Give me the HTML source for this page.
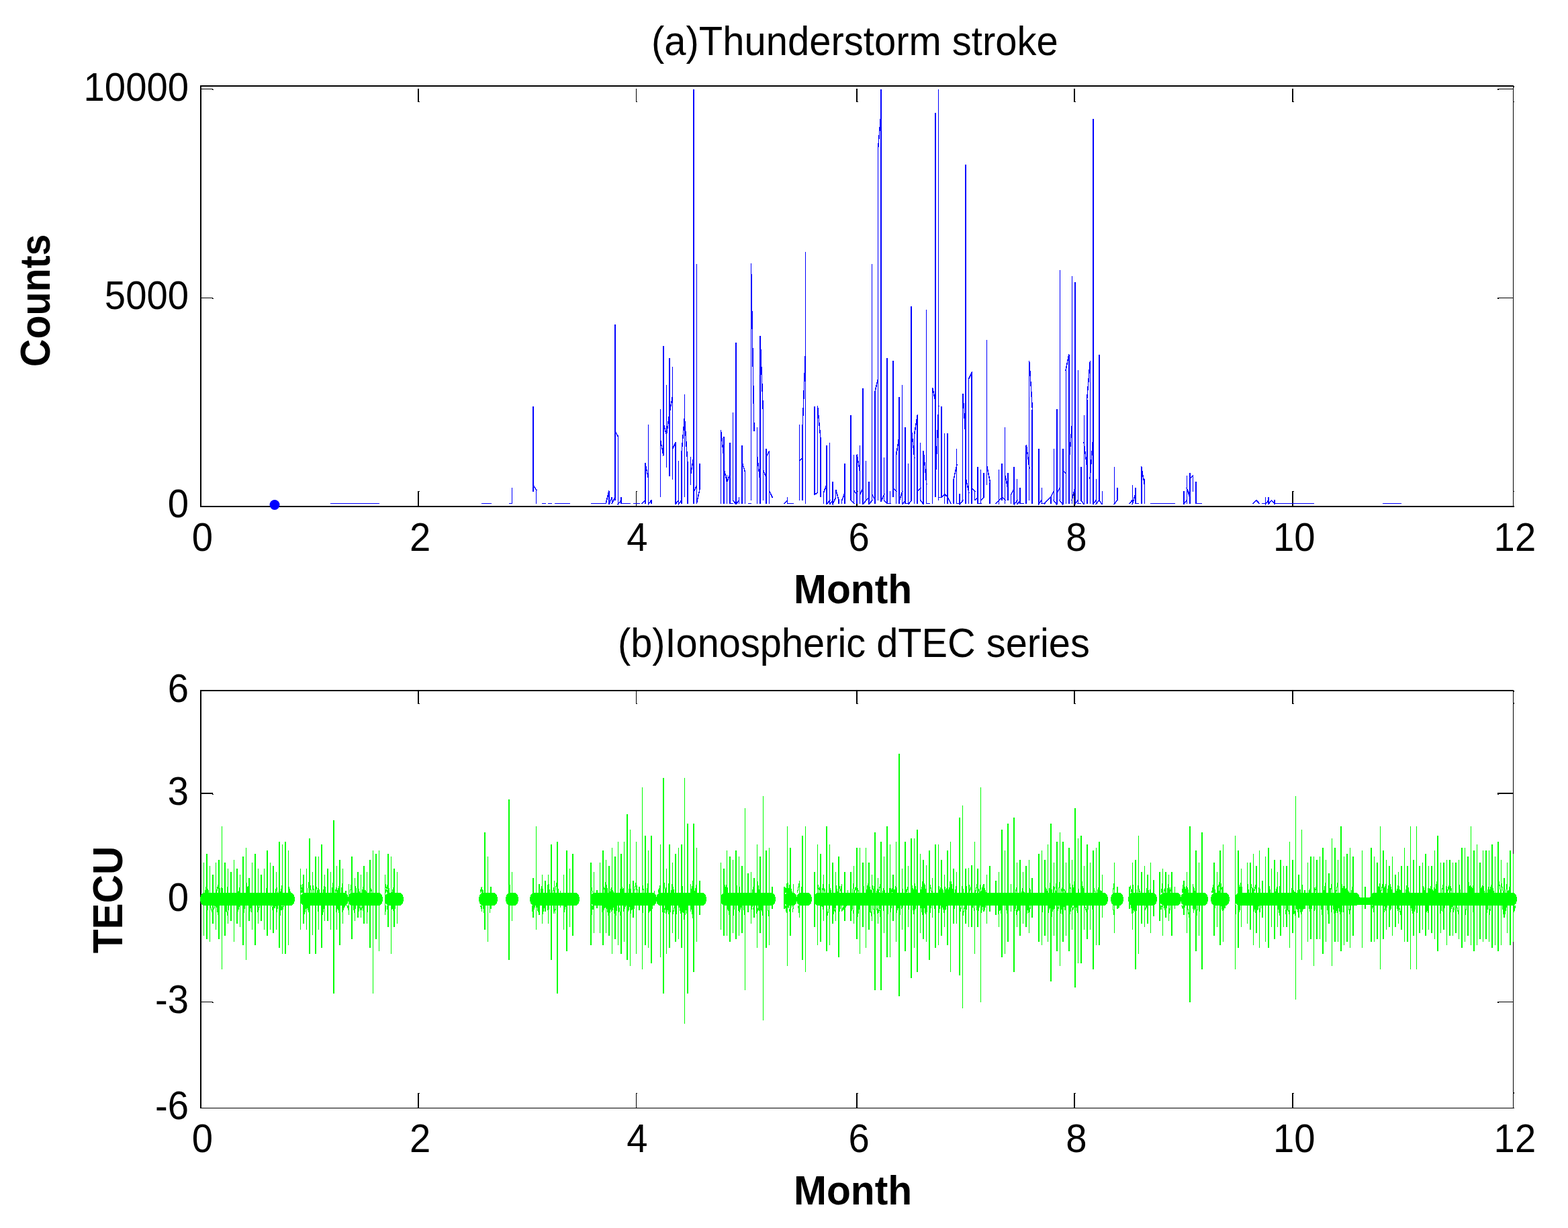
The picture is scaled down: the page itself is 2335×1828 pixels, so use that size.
<!DOCTYPE html>
<html lang="en"><head><meta charset="utf-8"><title>Thunderstorm stroke and ionospheric dTEC series</title>
<style>html,body{margin:0;padding:0;background:#fff;}body{width:2335px;height:1828px;overflow:hidden;}svg{display:block;}text{font-family:'Liberation Sans', Arial, Helvetica, sans-serif;fill:#000;}</style>
</head><body>
<svg xmlns="http://www.w3.org/2000/svg" width="2335" height="1828" viewBox="0 0 2335 1828">
<rect width="2335" height="1828" fill="#fff"/>
<g shape-rendering="crispEdges">
<rect x="298" y="127" width="2" height="628" fill="#000"/>
<rect x="298" y="127" width="1956" height="2" fill="#000"/>
<rect x="2253" y="127" width="1" height="628" fill="#000"/>
<rect x="298" y="753" width="1957" height="2" fill="#000"/>
<rect x="2254" y="128" width="1" height="2" fill="#000"/>
<rect x="622" y="731" width="2" height="22" fill="#000"/>
<rect x="622" y="132" width="2" height="20" fill="#000"/>
<rect x="624" y="151" width="1" height="1" fill="#000"/>
<rect x="624" y="731" width="1" height="1" fill="#000"/>
<rect x="947" y="731" width="1" height="22" fill="#000"/>
<rect x="947" y="132" width="1" height="20" fill="#000"/>
<rect x="948" y="151" width="1" height="1" fill="#000"/>
<rect x="948" y="731" width="1" height="1" fill="#000"/>
<rect x="1275" y="731" width="2" height="22" fill="#000"/>
<rect x="1275" y="132" width="2" height="20" fill="#000"/>
<rect x="1277" y="151" width="1" height="1" fill="#000"/>
<rect x="1277" y="731" width="1" height="1" fill="#000"/>
<rect x="1599" y="731" width="2" height="22" fill="#000"/>
<rect x="1599" y="132" width="2" height="20" fill="#000"/>
<rect x="1601" y="151" width="1" height="1" fill="#000"/>
<rect x="1601" y="731" width="1" height="1" fill="#000"/>
<rect x="1924" y="731" width="2" height="22" fill="#000"/>
<rect x="1924" y="132" width="2" height="20" fill="#000"/>
<rect x="1926" y="151" width="1" height="1" fill="#000"/>
<rect x="1926" y="731" width="1" height="1" fill="#000"/>
<rect x="300" y="132" width="17" height="1" fill="#000"/>
<rect x="316" y="133" width="2" height="1" fill="#000"/>
<rect x="2230" y="132" width="23" height="1" fill="#000"/>
<rect x="2230" y="133" width="2" height="1" fill="#000"/>
<rect x="300" y="443" width="17" height="1" fill="#000"/>
<rect x="316" y="444" width="2" height="1" fill="#000"/>
<rect x="2230" y="443" width="23" height="1" fill="#000"/>
<rect x="2230" y="444" width="2" height="1" fill="#000"/>
<rect x="2254" y="151" width="1" height="1" fill="#000"/><rect x="2254" y="731" width="1" height="1" fill="#000"/>
</g>
<g shape-rendering="crispEdges">
<rect x="298" y="1027" width="2" height="623" fill="#000"/>
<rect x="298" y="1027" width="1956" height="2" fill="#000"/>
<rect x="2253" y="1027" width="1" height="623" fill="#000"/>
<rect x="298" y="1649" width="1957" height="1" fill="#000"/>
<rect x="2254" y="1028" width="1" height="2" fill="#000"/>
<rect x="622" y="1627" width="2" height="22" fill="#000"/>
<rect x="622" y="1029" width="2" height="19" fill="#000"/>
<rect x="624" y="1047" width="1" height="1" fill="#000"/>
<rect x="624" y="1627" width="1" height="1" fill="#000"/>
<rect x="947" y="1627" width="1" height="22" fill="#000"/>
<rect x="947" y="1029" width="1" height="19" fill="#000"/>
<rect x="948" y="1047" width="1" height="1" fill="#000"/>
<rect x="948" y="1627" width="1" height="1" fill="#000"/>
<rect x="1275" y="1627" width="2" height="22" fill="#000"/>
<rect x="1275" y="1029" width="2" height="19" fill="#000"/>
<rect x="1277" y="1047" width="1" height="1" fill="#000"/>
<rect x="1277" y="1627" width="1" height="1" fill="#000"/>
<rect x="1599" y="1627" width="2" height="22" fill="#000"/>
<rect x="1599" y="1029" width="2" height="19" fill="#000"/>
<rect x="1601" y="1047" width="1" height="1" fill="#000"/>
<rect x="1601" y="1627" width="1" height="1" fill="#000"/>
<rect x="1924" y="1627" width="2" height="22" fill="#000"/>
<rect x="1924" y="1029" width="2" height="19" fill="#000"/>
<rect x="1926" y="1047" width="1" height="1" fill="#000"/>
<rect x="1926" y="1627" width="1" height="1" fill="#000"/>
<rect x="300" y="1180" width="17" height="2" fill="#000"/>
<rect x="316" y="1182" width="2" height="1" fill="#000"/>
<rect x="2230" y="1180" width="23" height="2" fill="#000"/>
<rect x="2230" y="1182" width="2" height="1" fill="#000"/>
<rect x="300" y="1336" width="17" height="1" fill="#000"/>
<rect x="316" y="1337" width="2" height="1" fill="#000"/>
<rect x="2230" y="1336" width="23" height="1" fill="#000"/>
<rect x="2230" y="1337" width="2" height="1" fill="#000"/>
<rect x="300" y="1491" width="17" height="1" fill="#000"/>
<rect x="316" y="1492" width="2" height="1" fill="#000"/>
<rect x="2230" y="1491" width="23" height="1" fill="#000"/>
<rect x="2230" y="1492" width="2" height="1" fill="#000"/>
<rect x="2254" y="1046" width="1" height="2" fill="#000"/><rect x="2254" y="1626" width="1" height="2" fill="#000"/>
</g>
<g fill="none" stroke="#0000ff" stroke-width="1.5" shape-rendering="crispEdges" stroke-linecap="square">
<path d="M794.2 722.9L798.7 729.3M902.3 749.5L906.8 731.3M906.8 750.6L911.3 740.3M911.3 749.5L915.8 740.3M915.8 641.7L920.3 649.5M920.3 750.6L924.8 744.8M956.3 749.5L960.9 744.8M960.9 690.0L965.4 711.3M965.4 750.6L969.9 744.8M956.3 749.5L960.9 744.8M965.4 750.6L969.9 744.8M983.4 654.6L987.9 677.8M987.9 630.2L992.4 646.9M992.4 646.9L996.9 616.0M996.9 616.0L1001.4 590.2M1001.4 668.8L1005.9 658.5M1005.9 750.6L1010.4 744.8M1010.4 750.6L1014.9 744.8M1014.9 675.2L1019.4 621.1M1019.4 621.1L1023.9 689.4M1028.4 707.4L1032.9 680.4M1032.9 733.2L1037.4 722.9M1037.4 749.5L1041.9 728.7M1073.5 641.1L1078.0 681.7M1078.0 697.1L1082.5 717.7M1082.5 717.7L1087.0 706.1M1091.5 744.8L1096.0 750.6M1096.0 750.6L1100.5 744.8M1105.0 688.1L1109.5 702.3M1118.5 393.2L1123.0 641.7M1127.5 677.8L1132.0 717.7M1132.0 501.2L1136.5 614.7M1136.5 699.7L1141.1 711.3M1141.1 680.4L1145.6 671.4M1145.6 730.6L1150.1 740.3M1168.1 749.5L1172.6 744.8M1190.6 686.2L1195.1 681.7M1195.1 636.6L1199.6 520.9M1213.1 736.4L1217.6 733.2M1217.6 605.0L1222.1 654.6M1226.6 733.2L1231.2 721.6M1226.6 733.2L1231.2 720.3M1231.2 750.6L1235.7 744.8M1235.7 750.6L1240.2 744.8M1240.2 750.6L1244.7 740.3M1244.7 729.3L1249.2 744.8M1253.7 744.8L1258.2 733.2M1267.2 744.8L1271.7 749.5M1271.7 730.6L1276.2 735.8M1276.2 677.2L1280.7 703.6M1280.7 735.8L1285.2 726.8M1285.2 750.6L1289.7 744.8M1289.7 744.8L1294.2 740.3M1294.2 750.6L1298.7 744.8M1298.7 735.8L1303.2 744.8M1303.2 581.9L1307.7 563.2M1312.2 746.1L1316.7 735.8M1316.7 744.8L1321.3 749.5M1321.3 749.5L1325.8 749.5M1330.3 726.8L1334.8 731.3"/>
<path d="M1334.8 677.2L1339.3 646.9M1339.3 744.8L1343.8 731.3M1343.8 750.6L1348.3 744.8M1348.3 749.5L1352.8 749.5M1352.8 750.6L1357.3 744.8M1357.3 639.2L1361.8 681.7M1361.8 645.6L1366.3 617.9M1366.3 731.3L1370.8 726.8M1370.8 744.8L1375.3 750.6M1375.3 672.0L1379.8 720.3M1379.8 749.5L1384.3 749.5M1388.8 578.0L1393.3 599.2M1393.3 710.0L1397.8 604.4M1397.8 740.3L1402.3 740.3M1402.3 740.3L1406.8 735.8M1406.8 735.8L1411.4 740.3M1411.4 740.3L1415.9 749.5M1420.4 712.6L1424.9 692.0M1424.9 749.5L1429.4 749.5M1429.4 750.6L1433.9 744.8M1433.9 587.0L1438.4 655.9M1438.4 712.6L1442.9 733.2M1442.9 563.2L1447.4 554.2M1447.4 726.8L1451.9 731.3M1451.9 744.8L1456.4 740.3M1456.4 749.5L1460.9 749.5M1460.9 744.8L1465.4 740.3M1469.9 695.2L1474.4 717.7M1483.4 749.5L1487.9 744.8M1487.9 744.8L1492.4 740.3M1492.4 740.3L1496.9 744.8M1496.9 708.7L1501.5 730.6M1307.7 220.2L1312.2 166.1M1492.4 740.3L1496.9 744.8M1496.9 708.7L1501.5 726.8M1506.0 735.8L1510.5 726.8M1510.5 750.6L1515.0 744.8M1515.0 750.6L1519.5 744.8M1519.5 749.5L1524.0 749.5M1528.5 663.0L1533.0 697.1M1533.0 540.0L1537.5 610.2M1546.5 750.6L1551.0 744.8M1551.0 749.5L1555.5 749.5M1555.5 749.5L1564.5 740.3M1564.5 740.3L1569.0 731.3M1569.0 744.8L1573.5 750.6M1573.5 735.8L1578.0 726.8M1578.0 744.8L1582.5 750.6M1582.5 699.7L1587.0 704.9M1587.0 551.6L1591.6 528.0M1591.6 692.0L1596.1 635.3M1596.1 744.8L1600.6 726.8M1600.6 750.6L1605.1 744.8M1605.1 749.5L1609.6 749.5M1609.6 744.8L1614.1 750.6M1614.1 659.1L1618.6 694.6M1618.6 595.4L1623.1 540.0M1623.1 712.6L1627.6 653.3M1627.6 750.6L1632.1 744.8M1632.1 750.6L1636.6 744.8"/>
<path d="M1636.6 744.8L1641.1 750.6M1659.1 750.6L1663.6 744.8M1681.7 749.5L1686.2 744.8M1686.2 750.6L1690.7 735.8M1690.7 749.5L1695.2 749.5M1699.7 695.2L1704.2 720.3M1762.7 750.6L1767.2 744.8M1767.2 726.8L1771.8 735.8M1762.7 750.6L1767.2 744.8M1767.2 726.8L1771.8 740.9M1771.8 713.2L1776.3 708.1M1866.4 749.5L1870.9 744.8M1870.9 744.8L1875.4 749.5M1884.4 750.6L1888.9 744.8M1888.9 750.6L1893.4 744.8M1893.4 744.8L1897.9 749.5"/>
</g>
<g fill="#0000ff" shape-rendering="crispEdges">
<path d="M762 726h1v24h-1zM793 605h2v127h-2zM798 729h1v21h-1zM906 731h2v20h-2zM911 740h1v10h-1zM915 483h2v262h-2zM920 649h1v102h-1zM924 740h2v10h-2zM960 690h2v60h-2zM965 632h1v119h-1zM969 745h2v5h-2zM983 609h1v131h-1zM987 515h2v163h-2zM992 573h1v123h-1zM996 533h2v176h-2zM1001 546h1v168h-1zM1005 658h2v93h-2zM1010 686h1v65h-1zM1014 675h2v75h-2zM1019 587h1v153h-1zM1023 689h2v61h-2zM1028 680h1v42h-1zM1032 133h2v617h-2zM1037 393h1v357h-1zM1041 690h2v39h-2zM1073 641h1v109h-1zM1077 650h2v100h-2zM1082 707h1v43h-1zM1086 659h2v91h-2zM1091 614h1v131h-1zM1095 510h2v241h-2zM1100 740h1v10h-1zM1104 663h2v87h-2zM1109 700h1v50h-1zM1118 393h1v352h-1zM1127 636h1v114h-1zM1131 501h2v249h-2zM1136 615h1v130h-1zM1140 668h2v82h-2zM1145 671h1v79h-1zM1172 740h1v10h-1zM1190 632h1v113h-1zM1194 637h2v108h-2zM1199 375h1v375h-1zM1212 605h2v131h-2zM1217 605h1v128h-1zM1221 655h2v85h-2zM1226 733h1v17h-1zM1230 663h2v88h-2zM1235 659h1v92h-1zM1239 717h2v34h-2zM1244 729h1v11h-1zM1248 745h2v5h-2zM1253 745h1v5h-1zM1257 690h2v60h-2zM1266 618h2v127h-2zM1271 677h1v73h-1zM1275 677h2v73h-2zM1280 663h1v87h-1zM1284 578h2v173h-2zM1289 686h1v59h-1zM1293 717h2v34h-2zM1298 393h1v352h-1zM1302 582h2v168h-2zM1307 220h1v525h-1zM1311 133h2v613h-2zM1316 681h1v64h-1zM1320 533h2v217h-2zM1325 731h1v19h-1zM1329 537h2v203h-2zM1334 672h1v78h-1zM1338 591h2v159h-2zM1343 573h1v178h-1zM1347 636h2v114h-2zM1352 690h1v61h-1zM1356 456h2v289h-2zM1361 642h1v108h-1zM1365 618h2v132h-2zM1370 659h1v86h-1zM1374 672h2v79h-2z"/>
<path d="M1379 461h1v289h-1zM1388 578h1v172h-1zM1392 168h2v572h-2zM1397 133h1v612h-1zM1401 605h2v135h-2zM1406 645h1v105h-1zM1410 645h2v105h-2zM1419 713h2v37h-2zM1424 668h1v82h-1zM1428 735h2v16h-2zM1433 587h1v158h-1zM1437 245h2v505h-2zM1442 563h1v187h-1zM1446 554h2v196h-2zM1451 731h1v14h-1zM1455 695h2v55h-2zM1460 699h1v51h-1zM1464 704h2v36h-2zM1469 506h1v216h-1zM1473 718h2v32h-2zM1487 699h1v52h-1zM1491 690h2v55h-2zM1496 636h1v114h-1zM1500 704h2v41h-2zM1505 736h1v14h-1zM1509 695h2v56h-2zM1514 713h1v38h-1zM1518 726h2v24h-2zM1527 663h2v87h-2zM1532 537h1v208h-1zM1536 610h2v140h-2zM1546 668h2v83h-2zM1551 726h1v24h-1zM1564 740h2v10h-2zM1569 668h1v77h-1zM1573 609h2v142h-2zM1578 402h1v343h-1zM1582 668h2v83h-2zM1587 552h1v198h-1zM1591 528h2v222h-2zM1596 411h1v339h-1zM1600 420h2v331h-2zM1605 551h1v199h-1zM1609 695h2v50h-2zM1614 618h1v133h-1zM1618 595h2v155h-2zM1623 537h1v213h-1zM1627 177h2v574h-2zM1632 713h1v38h-1zM1636 528h2v217h-2zM1641 731h1v20h-1zM1659 695h1v56h-1zM1663 726h2v19h-2zM1686 722h1v29h-1zM1690 726h2v24h-2zM1699 695h2v55h-2zM1704 713h1v37h-1zM1762 731h2v20h-2zM1767 708h1v42h-1zM1771 704h2v46h-2zM1776 708h1v24h-1zM1780 717h2v33h-2zM1884 740h1v11h-1zM1888 740h2v11h-2zM1897 744h2v7h-2zM717 749h15v1h-15zM758 749h5v1h-5zM807 749h6v1h-6zM816 749h6v1h-6zM826 749h23v1h-23zM880 749h23v1h-23zM925 749h14v1h-14zM943 749h10v1h-10zM950 749h3v1h-3zM1087 749h5v1h-5zM1114 749h5v1h-5zM1172 749h10v1h-10zM1713 749h37v1h-37zM1781 749h9v1h-9zM1879 749h5v1h-5z"/>
<path d="M1898 749h59v1h-59zM2059 749h28v1h-28zM492 749h73v1h-73z"/>
</g>
<circle cx="409" cy="751.5" r="7.5" fill="#0000ff"/>
<g fill="#00ff00" shape-rendering="crispEdges">
<path d="M303.5 1329H433.5A5.5 9.5 0 0 1 433.5 1348H303.5A5.5 9.5 0 0 1 303.5 1329ZM452.5 1329H513.5A5.5 9.5 0 0 1 513.5 1348H452.5A5.5 9.5 0 0 1 452.5 1329ZM523.5 1329H564.5A5.5 9.5 0 0 1 564.5 1348H523.5A5.5 9.5 0 0 1 523.5 1329ZM578.5 1329H595.5A5.5 9.5 0 0 1 595.5 1348H578.5A5.5 9.5 0 0 1 578.5 1329ZM718.5 1329H735.5A5.5 9.5 0 0 1 735.5 1348H718.5A5.5 9.5 0 0 1 718.5 1329ZM758.5 1329H766.5A5.5 9.5 0 0 1 766.5 1348H758.5A5.5 9.5 0 0 1 758.5 1329ZM794.5 1329H857.5A5.5 9.5 0 0 1 857.5 1348H794.5A5.5 9.5 0 0 1 794.5 1329ZM884.5 1329H972.5A5.5 9.5 0 0 1 972.5 1348H884.5A5.5 9.5 0 0 1 884.5 1329ZM982.5 1329H1046.5A5.5 9.5 0 0 1 1046.5 1348H982.5A5.5 9.5 0 0 1 982.5 1329ZM1078.5 1329H1149.5A5.5 9.5 0 0 1 1149.5 1348H1078.5A5.5 9.5 0 0 1 1078.5 1329ZM1172.5 1329H1181.5A5.5 9.5 0 0 1 1181.5 1348H1172.5A5.5 9.5 0 0 1 1172.5 1329ZM1191.5 1329H1203.5A5.5 9.5 0 0 1 1203.5 1348H1191.5A5.5 9.5 0 0 1 1191.5 1329ZM1217.5 1329H1644.5A5.5 9.5 0 0 1 1644.5 1348H1217.5A5.5 9.5 0 0 1 1217.5 1329ZM1659.5 1329H1667.5A5.5 9.5 0 0 1 1667.5 1348H1659.5A5.5 9.5 0 0 1 1659.5 1329ZM1685.5 1329H1717.5A5.5 9.5 0 0 1 1717.5 1348H1685.5A5.5 9.5 0 0 1 1685.5 1329ZM1732.5 1329H1753.5A5.5 9.5 0 0 1 1753.5 1348H1732.5A5.5 9.5 0 0 1 1732.5 1329ZM1763.5 1329H1793.5A5.5 9.5 0 0 1 1793.5 1348H1763.5A5.5 9.5 0 0 1 1763.5 1329ZM1808.5 1329H1825.5A5.5 9.5 0 0 1 1825.5 1348H1808.5A5.5 9.5 0 0 1 1808.5 1329ZM1844.5 1329H2019.5A5.5 9.5 0 0 1 2019.5 1348H1844.5A5.5 9.5 0 0 1 1844.5 1329ZM2045.5 1329H2253.5A5.5 9.5 0 0 1 2253.5 1348H2045.5A5.5 9.5 0 0 1 2045.5 1329ZM2022 1336H2043V1347H2022Z"/>
<path d="M303 1284h1V1393h-1zM307 1271h2V1398h-2zM312 1289h1V1402h-1zM316 1302h2V1375h-2zM321 1284h1V1384h-1zM325 1280h2V1398h-2zM330 1230h1V1443h-1zM334 1284h2V1393h-2zM339 1293h1V1375h-1zM343 1298h2V1371h-2zM348 1280h1V1402h-1zM352 1293h2V1375h-2zM357 1302h1V1380h-1zM361 1275h2V1407h-2zM366 1262h1V1429h-1zM370 1307h2V1371h-2zM375 1284h1V1384h-1zM379 1271h2V1407h-2zM384 1293h1V1375h-1zM388 1302h2V1371h-2zM393 1293h1V1384h-1zM397 1266h2V1393h-2zM402 1284h1V1384h-1zM406 1289h2V1389h-2zM411 1298h1V1384h-1zM415 1253h2V1411h-2zM420 1257h1V1420h-1zM424 1253h2V1420h-2zM429 1266h1V1407h-1zM447 1293h1V1384h-1zM451 1302h2V1375h-2zM456 1293h1V1384h-1zM460 1248h2V1420h-2zM465 1298h1V1392h-1zM469 1275h2V1420h-2zM474 1275h1V1384h-1zM478 1257h2V1411h-2zM483 1302h1V1371h-1zM487 1293h2V1371h-2zM492 1298h1V1384h-1zM496 1221h2V1479h-2zM501 1289h1V1384h-1zM505 1280h2V1407h-2zM510 1293h1V1375h-1zM514 1326h2V1348h-2zM519 1316h1V1362h-1zM523 1275h2V1398h-2zM528 1307h1V1371h-1zM532 1298h2V1366h-2zM537 1302h1V1366h-1zM541 1289h2V1375h-2zM546 1298h1V1375h-1zM550 1280h2V1411h-2zM555 1266h1V1479h-1zM559 1271h2V1398h-2zM564 1266h1V1416h-1zM573 1302h1V1362h-1zM577 1271h2V1380h-2zM582 1275h1V1420h-1zM586 1293h2V1380h-2zM591 1298h1V1375h-1zM717 1320h1V1357h-1zM721 1239h2V1384h-2zM726 1275h1V1402h-1zM730 1320h2V1353h-2zM757 1190h2V1429h-2zM762 1298h1V1371h-1zM793 1307h2V1366h-2zM798 1230h1V1384h-1zM802 1316h2V1362h-2zM807 1302h1V1375h-1zM811 1311h2V1357h-2zM816 1302h1V1375h-1zM820 1257h2V1429h-2zM825 1311h1V1357h-1zM829 1253h2V1479h-2zM834 1326h1V1351h-1zM839 1302h1V1384h-1zM843 1266h2V1416h-2zM848 1293h1V1380h-1zM852 1271h2V1393h-2zM879 1284h2V1407h-2zM884 1298h1V1389h-1zM888 1325h2V1352h-2zM893 1284h1V1389h-1zM897 1266h2V1407h-2zM902 1280h1V1389h-1zM906 1289h2V1393h-2zM911 1262h1V1420h-1zM915 1275h2V1398h-2zM920 1253h1V1407h-1zM924 1271h2V1420h-2zM929 1253h1V1402h-1zM933 1212h2V1429h-2zM938 1235h1V1438h-1zM942 1311h2V1366h-2zM947 1253h1V1420h-1zM951 1320h2V1355h-2zM956 1172h1V1443h-1zM960 1244h2V1407h-2zM965 1266h1V1411h-1zM969 1244h2V1434h-2zM974 1326h1V1348h-1zM983 1257h1V1425h-1zM987 1158h2V1479h-2zM992 1293h1V1420h-1zM996 1257h2V1411h-2zM1001 1284h1V1389h-1zM1005 1271h2V1402h-2zM1010 1262h1V1398h-1zM1014 1257h2V1411h-2zM1019 1158h1V1524h-1zM1023 1226h2V1479h-2zM1028 1316h1V1357h-1zM1032 1226h2V1447h-2zM1037 1262h1V1402h-1zM1041 1311h2V1362h-2zM1073 1284h1V1384h-1zM1077 1293h2V1393h-2zM1082 1266h1V1393h-1z"/>
<path d="M1086 1275h2V1402h-2zM1091 1280h1V1389h-1zM1095 1266h2V1398h-2zM1100 1275h1V1393h-1zM1104 1289h2V1389h-2zM1109 1203h1V1474h-1zM1113 1300h2V1358h-2zM1118 1298h1V1375h-1zM1122 1307h2V1366h-2zM1127 1257h1V1411h-1zM1131 1275h2V1389h-2zM1136 1185h1V1519h-1zM1140 1266h2V1411h-2zM1145 1262h1V1407h-1zM1149 1320h2V1353h-2zM1167 1320h2V1353h-2zM1172 1230h1V1438h-1zM1176 1262h2V1393h-2zM1181 1316h1V1353h-1zM1190 1311h1V1366h-1zM1194 1244h2V1429h-2zM1199 1230h1V1447h-1zM1212 1298h2V1380h-2zM1217 1257h1V1407h-1zM1221 1271h2V1402h-2zM1226 1302h1V1371h-1zM1230 1230h2V1416h-2zM1235 1257h1V1407h-1zM1239 1284h2V1375h-2zM1244 1298h1V1371h-1zM1248 1275h2V1425h-2zM1253 1316h1V1357h-1zM1257 1298h2V1371h-2zM1262 1325h1V1348h-1zM1266 1298h2V1371h-2zM1271 1289h1V1375h-1zM1275 1262h2V1398h-2zM1280 1262h1V1420h-1zM1284 1284h2V1380h-2zM1289 1262h1V1411h-1zM1293 1284h2V1384h-2zM1298 1302h1V1371h-1zM1302 1239h2V1474h-2zM1307 1307h1V1375h-1zM1311 1253h2V1474h-2zM1316 1275h1V1389h-1zM1320 1230h2V1425h-2zM1325 1257h1V1425h-1zM1329 1302h2V1371h-2zM1334 1253h1V1402h-1zM1338 1122h2V1483h-2zM1343 1293h1V1384h-1zM1347 1253h2V1416h-2zM1352 1289h1V1380h-1zM1356 1248h2V1456h-2zM1361 1248h1V1411h-1zM1365 1235h2V1447h-2zM1370 1271h1V1389h-1zM1374 1280h2V1398h-2zM1379 1288h1V1402h-1zM1383 1266h2V1429h-2zM1388 1307h1V1366h-1zM1392 1257h2V1411h-2zM1397 1257h1V1407h-1zM1401 1280h2V1393h-2zM1406 1302h1V1380h-1zM1410 1266h2V1407h-2zM1415 1253h1V1447h-1zM1419 1293h2V1375h-2zM1424 1298h1V1375h-1zM1428 1217h2V1452h-2zM1433 1199h1V1501h-1zM1437 1293h2V1375h-2zM1442 1292h1V1380h-1zM1446 1288h2V1380h-2zM1451 1253h1V1420h-1zM1455 1293h2V1380h-2zM1460 1172h1V1492h-1zM1464 1316h2V1357h-2zM1469 1302h1V1375h-1zM1473 1289h2V1357h-2zM1478 1329h1V1348h-1zM1482 1311h2V1362h-2zM1487 1298h1V1380h-1zM1491 1235h2V1425h-2zM1496 1266h1V1420h-1zM1500 1226h2V1402h-2zM1505 1316h1V1357h-1zM1509 1217h2V1447h-2zM1514 1284h1V1380h-1zM1518 1280h2V1393h-2zM1523 1298h1V1375h-1zM1527 1289h2V1380h-2zM1532 1280h1V1389h-1zM1536 1307h2V1366h-2zM1541 1329h1V1348h-1zM1546 1271h2V1402h-2zM1551 1266h1V1407h-1zM1555 1280h2V1393h-2zM1560 1257h1V1402h-1zM1564 1226h2V1461h-2zM1569 1284h1V1393h-1zM1573 1253h2V1416h-2zM1578 1239h1V1438h-1zM1582 1253h2V1402h-2zM1587 1284h1V1393h-1zM1591 1262h2V1416h-2zM1596 1280h1V1384h-1zM1600 1203h2V1470h-2zM1605 1248h1V1434h-1zM1609 1244h2V1434h-2zM1614 1289h1V1384h-1zM1618 1257h2V1398h-2zM1623 1284h1V1384h-1zM1627 1266h2V1443h-2zM1632 1262h1V1407h-1zM1636 1253h2V1407h-2zM1641 1302h1V1366h-1zM1659 1284h1V1389h-1zM1663 1320h2V1353h-2z"/>
<path d="M1681 1320h2V1353h-2zM1686 1284h1V1384h-1zM1690 1280h2V1443h-2zM1695 1244h1V1420h-1zM1699 1298h2V1375h-2zM1704 1289h1V1380h-1zM1708 1302h2V1375h-2zM1713 1284h1V1389h-1zM1717 1310h2V1364h-2zM1726 1298h2V1371h-2zM1731 1293h1V1393h-1zM1735 1298h2V1366h-2zM1740 1302h1V1371h-1zM1744 1298h2V1393h-2zM1749 1320h1V1353h-1zM1762 1311h2V1362h-2zM1767 1298h1V1389h-1zM1771 1230h2V1492h-2zM1776 1316h1V1353h-1zM1780 1266h2V1416h-2zM1785 1284h1V1393h-1zM1789 1239h2V1443h-2zM1807 1284h2V1393h-2zM1812 1298h1V1380h-1zM1816 1266h2V1407h-2zM1821 1257h1V1402h-1zM1839 1244h1V1443h-1zM1843 1266h2V1411h-2zM1848 1293h1V1380h-1zM1852 1329h2V1348h-2zM1857 1284h1V1375h-1zM1861 1284h2V1384h-2zM1866 1271h1V1407h-1zM1870 1289h2V1389h-2zM1875 1266h1V1411h-1zM1879 1311h2V1366h-2zM1884 1275h1V1402h-1zM1888 1262h2V1411h-2zM1893 1293h1V1380h-1zM1897 1280h2V1398h-2zM1902 1298h1V1380h-1zM1906 1280h2V1393h-2zM1911 1289h1V1380h-1zM1915 1289h2V1380h-2zM1920 1253h1V1411h-1zM1924 1280h2V1389h-2zM1929 1185h1V1488h-1zM1933 1302h2V1366h-2zM1938 1235h1V1429h-1zM1942 1325h2V1353h-2zM1947 1284h1V1402h-1zM1951 1275h2V1398h-2zM1956 1275h1V1438h-1zM1960 1280h2V1398h-2zM1965 1275h1V1398h-1zM1969 1262h2V1420h-2zM1974 1280h1V1402h-1zM1978 1300h2V1375h-2zM1983 1248h1V1438h-1zM1987 1262h2V1402h-2zM1992 1280h1V1402h-1zM1996 1230h2V1416h-2zM2001 1275h1V1407h-1zM2005 1271h2V1402h-2zM2010 1262h1V1411h-1zM2014 1275h2V1393h-2zM2019 1329h1V1348h-1zM2028 1266h1V1411h-1zM2032 1320h2V1353h-2zM2041 1262h2V1402h-2zM2046 1275h1V1402h-1zM2050 1284h2V1398h-2zM2055 1230h1V1443h-1zM2059 1266h2V1398h-2zM2064 1280h1V1384h-1zM2068 1289h2V1380h-2zM2073 1275h1V1393h-1zM2077 1302h2V1380h-2zM2082 1298h1V1375h-1zM2086 1289h2V1384h-2zM2091 1262h1V1402h-1zM2095 1289h2V1402h-2zM2100 1230h1V1443h-1zM2104 1280h2V1393h-2zM2109 1230h1V1443h-1zM2113 1289h2V1389h-2zM2118 1284h1V1384h-1zM2122 1271h2V1393h-2zM2127 1289h1V1384h-1zM2131 1289h2V1389h-2zM2136 1266h1V1398h-1zM2140 1244h2V1416h-2zM2145 1284h1V1389h-1zM2149 1284h2V1384h-2zM2154 1280h1V1407h-1zM2158 1280h2V1393h-2zM2163 1284h1V1393h-1zM2167 1284h2V1389h-2zM2172 1280h1V1398h-1zM2176 1262h2V1411h-2zM2181 1262h1V1402h-1zM2185 1275h2V1393h-2zM2190 1230h1V1407h-1zM2194 1266h2V1416h-2zM2199 1257h1V1407h-1zM2203 1284h2V1398h-2zM2208 1266h1V1402h-1zM2212 1266h2V1398h-2zM2217 1266h1V1402h-1zM2221 1257h2V1411h-2zM2226 1275h1V1407h-1zM2230 1253h2V1416h-2zM2235 1280h1V1407h-1zM2239 1307h2V1366h-2zM2244 1284h1V1389h-1zM2248 1266h2V1407h-2zM2253 1271h1V1402h-1zM306 1320h1v9h-1zM305 1325h1v4h-1zM309 1323h1v6h-1z"/>
<path d="M310 1325h1v4h-1zM309 1348h1v7h-1zM315 1354h1v4h-1zM314 1351h1v4h-1zM313 1348h1v4h-1zM318 1351h1v3h-1zM319 1348h1v4h-1zM320 1348h1v1h-1zM324 1317h1v6h-1zM323 1320h1v6h-1zM322 1324h1v5h-1zM327 1322h1v10h-1zM324 1348h1v14h-1zM323 1348h1v10h-1zM322 1348h1v3h-1zM329 1321h1v11h-1zM331 1322h1v9h-1zM336 1348h1v9h-1zM337 1348h1v5h-1zM338 1320h1v10h-1zM338 1357h1v6h-1zM337 1352h1v6h-1zM336 1348h1v5h-1zM340 1347h1v8h-1zM354 1348h1v9h-1zM355 1348h1v6h-1zM356 1348h1v2h-1zM356 1321h1v8h-1zM355 1326h1v3h-1zM354 1327h1v2h-1zM363 1348h1v11h-1zM364 1348h1v5h-1zM367 1314h1v15h-1zM368 1320h1v9h-1zM369 1324h1v5h-1zM369 1319h1v12h-1zM372 1347h1v10h-1zM374 1348h1v10h-1zM373 1348h1v4h-1zM383 1347h1v11h-1zM385 1350h1v5h-1zM386 1348h1v3h-1zM396 1322h1v7h-1zM405 1350h1v5h-1zM404 1348h1v2h-1zM408 1348h1v4h-1zM409 1348h1v4h-1zM410 1348h1v1h-1zM410 1323h1v8h-1zM412 1321h1v5h-1zM413 1327h1v2h-1zM412 1348h1v10h-1zM413 1348h1v5h-1zM417 1348h1v15h-1zM418 1348h1v7h-1zM419 1318h1v11h-1zM418 1323h1v6h-1zM417 1327h1v2h-1zM419 1349h1v6h-1zM418 1348h1v5h-1zM421 1349h1v5h-1zM422 1348h1v2h-1zM430 1320h1v9h-1zM431 1323h1v6h-1zM432 1327h1v2h-1zM448 1317h1v7h-1zM449 1325h1v4h-1zM450 1316h1v13h-1zM449 1321h1v8h-1zM448 1325h1v4h-1zM453 1348h1v13h-1zM454 1348h1v10h-1zM455 1348h1v5h-1zM459 1313h1v9h-1zM458 1322h1v9h-1zM462 1318h1v7h-1zM463 1324h1v5h-1zM459 1348h1v10h-1zM458 1348h1v7h-1zM457 1348h1v4h-1zM466 1318h1v7h-1zM467 1323h1v7h-1zM471 1320h1v4h-1zM472 1325h1v4h-1zM473 1325h1v4h-1zM473 1322h1v7h-1zM472 1325h1v4h-1zM475 1324h1v5h-1zM473 1347h1v10h-1zM480 1348h1v14h-1zM481 1348h1v10h-1zM482 1348h1v5h-1zM482 1319h1v10h-1zM481 1324h1v5h-1zM484 1320h1v9h-1zM495 1314h1v15h-1zM494 1321h1v8h-1zM500 1321h1v6h-1zM499 1324h1v5h-1zM502 1325h1v4h-1zM500 1345h1v13h-1zM504 1319h1v10h-1zM503 1322h1v7h-1zM502 1325h1v4h-1zM504 1348h1v11h-1zM503 1348h1v7h-1zM502 1348h1v5h-1zM509 1315h1v14h-1zM508 1321h1v8h-1zM509 1348h1v10h-1zM511 1348h1v7h-1zM512 1348h1v4h-1zM513 1348h1v2h-1zM518 1348h1v7h-1zM517 1348h1v4h-1zM516 1348h1v1h-1zM522 1317h1v8h-1zM521 1324h1v5h-1zM529 1319h1v10h-1zM530 1322h1v7h-1z"/>
<path d="M527 1348h1v11h-1zM526 1348h1v7h-1zM529 1348h1v5h-1zM534 1323h1v6h-1zM535 1327h1v2h-1zM534 1346h1v11h-1zM536 1351h1v4h-1zM535 1348h1v4h-1zM534 1348h1v3h-1zM538 1351h1v4h-1zM539 1348h1v4h-1zM540 1348h1v2h-1zM540 1320h1v9h-1zM539 1324h1v5h-1zM543 1325h1v4h-1zM544 1325h1v4h-1zM545 1327h1v2h-1zM540 1348h1v8h-1zM547 1348h1v10h-1zM552 1322h1v5h-1zM553 1324h1v5h-1zM574 1316h1v6h-1zM575 1321h1v6h-1zM576 1325h1v4h-1zM574 1348h1v9h-1zM576 1317h1v6h-1zM575 1320h1v6h-1zM574 1324h1v5h-1zM579 1322h1v7h-1zM576 1348h1v6h-1zM583 1345h1v9h-1zM585 1321h1v8h-1zM584 1324h1v5h-1zM583 1328h1v1h-1zM585 1348h1v8h-1zM584 1348h1v5h-1zM588 1348h1v5h-1zM716 1321h1v6h-1zM715 1324h1v5h-1zM718 1324h1v5h-1zM719 1325h1v4h-1zM716 1348h1v5h-1zM715 1348h1v2h-1zM720 1348h1v11h-1zM719 1348h1v5h-1zM729 1347h1v12h-1zM759 1317h1v12h-1zM792 1348h1v9h-1zM795 1348h1v6h-1zM796 1348h1v3h-1zM801 1348h1v10h-1zM800 1348h1v8h-1zM799 1348h1v3h-1zM806 1319h1v10h-1zM805 1323h1v6h-1zM808 1323h1v6h-1zM808 1348h1v13h-1zM809 1348h1v9h-1zM810 1348h1v4h-1zM815 1317h1v12h-1zM817 1316h1v13h-1zM818 1324h1v5h-1zM815 1347h1v8h-1zM817 1347h1v7h-1zM824 1321h1v5h-1zM823 1325h1v4h-1zM824 1348h1v12h-1zM826 1353h1v7h-1zM827 1348h1v7h-1zM828 1314h1v6h-1zM827 1319h1v6h-1zM826 1325h1v4h-1zM831 1323h1v8h-1zM840 1348h1v10h-1zM841 1348h1v6h-1zM842 1348h1v2h-1zM881 1321h1v5h-1zM882 1326h1v3h-1zM881 1348h1v14h-1zM882 1348h1v6h-1zM883 1348h1v6h-1zM899 1320h1v4h-1zM900 1325h1v4h-1zM901 1327h1v2h-1zM896 1348h1v10h-1zM899 1348h1v7h-1zM900 1348h1v4h-1zM901 1348h1v3h-1zM901 1313h1v16h-1zM900 1322h1v7h-1zM903 1317h1v12h-1zM904 1322h1v7h-1zM905 1348h1v15h-1zM904 1348h1v10h-1zM903 1348h1v5h-1zM908 1348h1v11h-1zM909 1348h1v5h-1zM910 1321h1v8h-1zM909 1323h1v6h-1zM908 1327h1v2h-1zM912 1325h1v4h-1zM913 1327h1v2h-1zM910 1348h1v9h-1zM909 1348h1v6h-1zM912 1348h1v7h-1zM913 1348h1v3h-1zM914 1348h1v12h-1zM917 1348h1v15h-1zM918 1348h1v8h-1zM921 1348h1v10h-1zM923 1323h1v6h-1zM926 1320h1v9h-1zM927 1323h1v6h-1zM928 1326h1v3h-1zM923 1357h1v6h-1zM922 1351h1v6h-1zM921 1348h1v4h-1zM928 1322h1v7h-1zM927 1326h1v3h-1zM928 1348h1v9h-1z"/>
<path d="M930 1348h1v5h-1zM931 1348h1v2h-1zM935 1348h1v9h-1zM936 1348h1v7h-1zM937 1348h1v2h-1zM937 1316h1v13h-1zM936 1323h1v6h-1zM939 1323h1v6h-1zM939 1348h1v12h-1zM940 1348h1v7h-1zM941 1348h1v6h-1zM940 1348h1v3h-1zM944 1348h1v5h-1zM946 1314h1v6h-1zM945 1319h1v6h-1zM944 1324h1v5h-1zM948 1318h1v7h-1zM949 1324h1v5h-1zM957 1318h1v7h-1zM958 1323h1v7h-1zM957 1346h1v13h-1zM964 1315h1v14h-1zM963 1322h1v7h-1zM966 1348h1v11h-1zM967 1348h1v9h-1zM968 1348h1v5h-1zM968 1348h1v8h-1zM967 1348h1v4h-1zM971 1348h1v5h-1zM982 1318h1v11h-1zM981 1322h1v7h-1zM980 1324h1v5h-1zM989 1314h1v9h-1zM990 1323h1v9h-1zM986 1346h1v12h-1zM989 1352h1v7h-1zM990 1348h1v5h-1zM991 1321h1v8h-1zM991 1348h1v12h-1zM990 1348h1v6h-1zM993 1348h1v10h-1zM994 1348h1v7h-1zM995 1348h1v2h-1zM995 1315h1v14h-1zM995 1348h1v13h-1zM994 1348h1v6h-1zM998 1348h1v10h-1zM1000 1316h1v13h-1zM999 1325h1v4h-1zM1002 1320h1v9h-1zM1003 1324h1v5h-1zM1002 1355h1v6h-1zM1003 1351h1v6h-1zM1004 1348h1v4h-1zM1007 1348h1v13h-1zM1016 1319h1v10h-1zM1013 1348h1v12h-1zM1012 1348h1v8h-1zM1011 1348h1v3h-1zM1016 1348h1v10h-1zM1017 1348h1v6h-1zM1018 1348h1v4h-1zM1018 1348h1v21h-1zM1017 1348h1v11h-1zM1020 1348h1v14h-1zM1022 1348h1v12h-1zM1021 1348h1v7h-1zM1031 1311h1v18h-1zM1030 1319h1v10h-1zM1029 1323h1v6h-1zM1031 1348h1v19h-1zM1030 1348h1v13h-1zM1029 1348h1v6h-1zM1036 1317h1v12h-1zM1035 1322h1v7h-1zM1034 1326h1v3h-1zM1079 1317h1v12h-1zM1080 1322h1v7h-1zM1081 1317h1v12h-1zM1080 1320h1v9h-1zM1079 1324h1v5h-1zM1083 1321h1v8h-1zM1083 1348h1v6h-1zM1085 1348h1v14h-1zM1084 1348h1v8h-1zM1092 1348h1v15h-1zM1093 1348h1v6h-1zM1097 1318h1v11h-1zM1101 1320h1v9h-1zM1099 1348h1v8h-1zM1101 1348h1v10h-1zM1102 1348h1v6h-1zM1103 1348h1v3h-1zM1108 1348h1v14h-1zM1107 1348h1v7h-1zM1119 1346h1v8h-1zM1121 1320h1v9h-1zM1120 1324h1v5h-1zM1121 1351h1v3h-1zM1120 1348h1v2h-1zM1119 1348h1v2h-1zM1128 1312h1v17h-1zM1129 1318h1v11h-1zM1130 1324h1v5h-1zM1126 1346h1v14h-1zM1128 1352h1v5h-1zM1129 1350h1v5h-1zM1130 1348h1v4h-1zM1130 1351h1v5h-1zM1129 1348h1v5h-1zM1133 1351h1v4h-1zM1134 1348h1v4h-1zM1135 1348h1v1h-1zM1135 1348h1v15h-1zM1134 1348h1v9h-1zM1133 1348h1v4h-1zM1144 1355h1v9h-1zM1143 1347h1v9h-1zM1169 1321h1v8h-1zM1170 1326h1v3h-1z"/>
<path d="M1171 1315h1v14h-1zM1170 1322h1v7h-1zM1173 1314h1v15h-1zM1174 1322h1v7h-1zM1171 1348h1v11h-1zM1170 1348h1v9h-1zM1169 1348h1v4h-1zM1175 1317h1v12h-1zM1178 1323h1v6h-1zM1179 1327h1v2h-1zM1175 1353h1v4h-1zM1174 1348h1v4h-1zM1173 1348h1v3h-1zM1180 1352h1v6h-1zM1179 1348h1v3h-1zM1189 1315h1v6h-1zM1188 1320h1v6h-1zM1187 1325h1v4h-1zM1189 1348h1v11h-1zM1188 1348h1v4h-1zM1193 1320h1v12h-1zM1218 1317h1v7h-1zM1219 1322h1v7h-1zM1220 1320h1v5h-1zM1219 1325h1v4h-1zM1225 1316h1v9h-1zM1224 1322h1v9h-1zM1227 1322h1v5h-1zM1228 1324h1v5h-1zM1225 1348h1v6h-1zM1224 1348h1v2h-1zM1223 1348h1v1h-1zM1232 1357h1v6h-1zM1233 1353h1v6h-1zM1234 1348h1v5h-1zM1234 1316h1v13h-1zM1236 1322h1v7h-1zM1237 1325h1v4h-1zM1241 1348h1v13h-1zM1242 1348h1v8h-1zM1243 1348h1v4h-1zM1245 1318h1v11h-1zM1246 1323h1v6h-1zM1247 1327h1v2h-1zM1243 1354h1v4h-1zM1242 1350h1v4h-1zM1241 1348h1v4h-1zM1250 1319h1v4h-1zM1251 1323h1v4h-1zM1252 1325h1v4h-1zM1250 1348h1v9h-1zM1251 1348h1v5h-1zM1252 1319h1v13h-1zM1254 1352h1v4h-1zM1255 1350h1v4h-1zM1256 1348h1v4h-1zM1256 1348h1v7h-1zM1259 1348h1v3h-1zM1260 1348h1v1h-1zM1268 1348h1v8h-1zM1269 1348h1v4h-1zM1270 1315h1v8h-1zM1269 1323h1v8h-1zM1270 1355h1v5h-1zM1269 1349h1v5h-1zM1268 1348h1v3h-1zM1274 1320h1v5h-1zM1273 1321h1v5h-1zM1272 1325h1v4h-1zM1277 1322h1v5h-1zM1278 1325h1v4h-1zM1277 1348h1v17h-1zM1278 1348h1v12h-1zM1279 1348h1v6h-1zM1286 1319h1v10h-1zM1292 1315h1v14h-1zM1291 1318h1v11h-1zM1290 1324h1v5h-1zM1295 1320h1v9h-1zM1296 1324h1v5h-1zM1297 1325h1v4h-1zM1295 1348h1v10h-1zM1296 1348h1v4h-1zM1299 1318h1v6h-1zM1300 1325h1v4h-1zM1297 1357h1v7h-1zM1296 1352h1v7h-1zM1295 1348h1v4h-1zM1301 1319h1v10h-1zM1300 1323h1v6h-1zM1301 1353h1v8h-1zM1300 1346h1v8h-1zM1306 1323h1v6h-1zM1305 1326h1v3h-1zM1308 1325h1v4h-1zM1309 1328h1v1h-1zM1306 1352h1v8h-1zM1305 1347h1v8h-1zM1308 1354h1v5h-1zM1309 1350h1v5h-1zM1310 1348h1v5h-1zM1310 1316h1v6h-1zM1309 1320h1v6h-1zM1308 1324h1v5h-1zM1310 1355h1v10h-1zM1309 1346h1v10h-1zM1315 1322h1v7h-1zM1314 1326h1v3h-1zM1317 1325h1v4h-1zM1315 1348h1v8h-1zM1322 1348h1v13h-1zM1324 1322h1v7h-1zM1326 1322h1v7h-1zM1327 1325h1v4h-1zM1326 1348h1v10h-1zM1327 1348h1v4h-1zM1328 1322h1v6h-1zM1327 1324h1v5h-1zM1331 1324h1v5h-1zM1332 1325h1v4h-1z"/>
<path d="M1333 1328h1v1h-1zM1333 1319h1v10h-1zM1332 1324h1v5h-1zM1335 1321h1v8h-1zM1335 1348h1v11h-1zM1336 1348h1v7h-1zM1337 1348h1v4h-1zM1340 1348h1v14h-1zM1344 1323h1v9h-1zM1342 1348h1v5h-1zM1344 1348h1v3h-1zM1351 1320h1v5h-1zM1350 1323h1v5h-1zM1349 1324h1v5h-1zM1353 1346h1v8h-1zM1358 1318h1v11h-1zM1359 1322h1v7h-1zM1360 1324h1v5h-1zM1362 1315h1v14h-1zM1363 1319h1v10h-1zM1364 1324h1v5h-1zM1360 1348h1v13h-1zM1359 1348h1v7h-1zM1362 1348h1v7h-1zM1363 1348h1v5h-1zM1373 1312h1v17h-1zM1372 1320h1v9h-1zM1371 1324h1v5h-1zM1376 1315h1v14h-1zM1377 1317h1v12h-1zM1378 1323h1v6h-1zM1373 1348h1v14h-1zM1372 1348h1v10h-1zM1371 1348h1v4h-1zM1378 1348h1v13h-1zM1377 1348h1v11h-1zM1376 1348h1v4h-1zM1380 1348h1v10h-1zM1385 1317h1v6h-1zM1386 1321h1v6h-1zM1387 1326h1v3h-1zM1385 1348h1v11h-1zM1386 1348h1v4h-1zM1391 1348h1v5h-1zM1398 1319h1v10h-1zM1399 1324h1v5h-1zM1398 1348h1v11h-1zM1399 1348h1v5h-1zM1400 1321h1v8h-1zM1403 1323h1v6h-1zM1404 1325h1v4h-1zM1407 1320h1v9h-1zM1408 1324h1v5h-1zM1405 1348h1v11h-1zM1404 1348h1v6h-1zM1403 1348h1v3h-1zM1407 1348h1v7h-1zM1408 1348h1v6h-1zM1409 1348h1v1h-1zM1409 1322h1v7h-1zM1408 1326h1v3h-1zM1412 1324h1v5h-1zM1413 1327h1v2h-1zM1414 1312h1v17h-1zM1413 1321h1v8h-1zM1416 1312h1v17h-1zM1417 1316h1v13h-1zM1418 1323h1v6h-1zM1421 1348h1v5h-1zM1423 1319h1v10h-1zM1422 1324h1v5h-1zM1430 1351h1v6h-1zM1431 1348h1v5h-1zM1432 1319h1v10h-1zM1434 1323h1v6h-1zM1434 1356h1v7h-1zM1435 1351h1v7h-1zM1436 1348h1v5h-1zM1439 1319h1v10h-1zM1439 1348h1v6h-1zM1443 1317h1v12h-1zM1445 1320h1v4h-1zM1444 1323h1v4h-1zM1443 1326h1v3h-1zM1450 1352h1v4h-1zM1449 1348h1v4h-1zM1448 1348h1v3h-1zM1454 1316h1v6h-1zM1453 1321h1v6h-1zM1452 1325h1v4h-1zM1457 1323h1v4h-1zM1458 1326h1v3h-1zM1459 1327h1v2h-1zM1454 1348h1v7h-1zM1457 1348h1v8h-1zM1458 1348h1v3h-1zM1459 1317h1v7h-1zM1458 1324h1v5h-1zM1461 1348h1v11h-1zM1462 1348h1v7h-1zM1463 1348h1v2h-1zM1463 1318h1v11h-1zM1462 1321h1v8h-1zM1461 1326h1v3h-1zM1466 1322h1v7h-1zM1467 1325h1v4h-1zM1468 1328h1v1h-1zM1466 1348h1v7h-1zM1467 1348h1v3h-1zM1486 1348h1v13h-1zM1488 1348h1v8h-1zM1490 1348h1v12h-1zM1489 1348h1v7h-1zM1488 1348h1v4h-1zM1499 1348h1v12h-1zM1498 1348h1v7h-1zM1511 1348h1v8h-1zM1512 1348h1v5h-1zM1513 1321h1v6h-1zM1512 1324h1v5h-1z"/>
<path d="M1513 1354h1v8h-1zM1512 1348h1v5h-1zM1515 1348h1v9h-1zM1517 1348h1v8h-1zM1516 1348h1v7h-1zM1515 1348h1v2h-1zM1522 1322h1v7h-1zM1521 1327h1v2h-1zM1524 1327h1v2h-1zM1525 1328h1v1h-1zM1529 1348h1v12h-1zM1530 1348h1v7h-1zM1531 1348h1v3h-1zM1533 1322h1v7h-1zM1534 1324h1v5h-1zM1531 1345h1v14h-1zM1533 1351h1v7h-1zM1534 1348h1v5h-1zM1552 1348h1v10h-1zM1557 1321h1v8h-1zM1558 1323h1v6h-1zM1559 1326h1v3h-1zM1561 1348h1v11h-1zM1562 1348h1v6h-1zM1563 1348h1v4h-1zM1563 1314h1v15h-1zM1562 1322h1v7h-1zM1566 1324h1v5h-1zM1566 1348h1v17h-1zM1567 1348h1v9h-1zM1568 1319h1v13h-1zM1570 1320h1v4h-1zM1571 1324h1v5h-1zM1572 1326h1v3h-1zM1568 1348h1v6h-1zM1570 1348h1v5h-1zM1572 1315h1v8h-1zM1571 1324h1v5h-1zM1575 1350h1v6h-1zM1576 1348h1v5h-1zM1577 1313h1v9h-1zM1576 1321h1v9h-1zM1579 1348h1v12h-1zM1580 1348h1v6h-1zM1581 1348h1v4h-1zM1581 1321h1v6h-1zM1580 1323h1v6h-1zM1584 1323h1v3h-1zM1585 1324h1v5h-1zM1586 1326h1v3h-1zM1581 1348h1v13h-1zM1580 1348h1v6h-1zM1579 1348h1v4h-1zM1586 1348h1v7h-1zM1585 1348h1v7h-1zM1584 1348h1v2h-1zM1593 1315h1v8h-1zM1594 1321h1v8h-1zM1593 1348h1v13h-1zM1594 1348h1v9h-1zM1595 1348h1v3h-1zM1597 1317h1v12h-1zM1598 1321h1v8h-1zM1599 1323h1v6h-1zM1597 1351h1v4h-1zM1598 1350h1v4h-1zM1599 1348h1v3h-1zM1599 1312h1v17h-1zM1598 1321h1v8h-1zM1606 1323h1v6h-1zM1604 1348h1v11h-1zM1603 1348h1v8h-1zM1602 1348h1v3h-1zM1611 1312h1v17h-1zM1612 1319h1v10h-1zM1613 1322h1v7h-1zM1613 1322h1v7h-1zM1612 1325h1v4h-1zM1611 1326h1v3h-1zM1617 1353h1v5h-1zM1616 1350h1v5h-1zM1615 1348h1v4h-1zM1620 1347h1v7h-1zM1629 1322h1v5h-1zM1630 1326h1v3h-1zM1626 1345h1v9h-1zM1635 1321h1v8h-1zM1634 1324h1v5h-1zM1638 1325h1v4h-1zM1639 1326h1v3h-1zM1640 1326h1v3h-1zM1658 1315h1v9h-1zM1657 1322h1v9h-1zM1658 1354h1v8h-1zM1657 1347h1v8h-1zM1665 1348h1v4h-1zM1666 1348h1v3h-1zM1683 1318h1v5h-1zM1684 1323h1v5h-1zM1685 1324h1v5h-1zM1687 1317h1v12h-1zM1685 1348h1v12h-1zM1684 1348h1v4h-1zM1687 1348h1v11h-1zM1688 1348h1v7h-1zM1689 1348h1v4h-1zM1689 1348h1v9h-1zM1688 1348h1v6h-1zM1692 1348h1v8h-1zM1694 1318h1v6h-1zM1693 1324h1v5h-1zM1696 1323h1v5h-1zM1697 1326h1v3h-1zM1705 1351h1v4h-1zM1706 1348h1v5h-1zM1707 1348h1v3h-1zM1707 1322h1v7h-1zM1710 1325h1v4h-1zM1712 1324h1v5h-1zM1728 1348h1v6h-1z"/>
<path d="M1729 1348h1v6h-1zM1730 1348h1v2h-1zM1730 1315h1v14h-1zM1729 1323h1v6h-1zM1734 1322h1v5h-1zM1733 1324h1v5h-1zM1734 1348h1v7h-1zM1733 1348h1v4h-1zM1737 1348h1v4h-1zM1739 1316h1v13h-1zM1738 1322h1v7h-1zM1741 1321h1v8h-1zM1741 1352h1v8h-1zM1742 1347h1v8h-1zM1743 1321h1v6h-1zM1742 1324h1v5h-1zM1761 1317h1v12h-1zM1760 1323h1v6h-1zM1764 1320h1v9h-1zM1765 1323h1v6h-1zM1766 1326h1v3h-1zM1761 1348h1v5h-1zM1760 1348h1v4h-1zM1759 1348h1v1h-1zM1764 1348h1v3h-1zM1766 1319h1v10h-1zM1765 1323h1v6h-1zM1764 1325h1v4h-1zM1768 1321h1v8h-1zM1769 1324h1v5h-1zM1770 1358h1v8h-1zM1769 1353h1v8h-1zM1768 1347h1v8h-1zM1777 1320h1v9h-1zM1778 1322h1v7h-1zM1779 1326h1v3h-1zM1777 1348h1v11h-1zM1778 1348h1v7h-1zM1779 1348h1v5h-1zM1782 1354h1v9h-1zM1783 1346h1v9h-1zM1786 1348h1v9h-1zM1806 1317h1v12h-1zM1805 1321h1v8h-1zM1804 1326h1v3h-1zM1809 1324h1v5h-1zM1809 1348h1v4h-1zM1813 1319h1v10h-1zM1814 1322h1v7h-1zM1815 1326h1v3h-1zM1815 1313h1v7h-1zM1814 1317h1v7h-1zM1813 1323h1v7h-1zM1818 1315h1v9h-1zM1819 1321h1v9h-1zM1820 1320h1v9h-1zM1819 1324h1v5h-1zM1820 1348h1v8h-1zM1819 1348h1v6h-1zM1818 1348h1v1h-1zM1822 1348h1v7h-1zM1823 1348h1v4h-1zM1824 1348h1v4h-1zM1840 1347h1v14h-1zM1845 1317h1v12h-1zM1845 1348h1v10h-1zM1846 1348h1v7h-1zM1847 1314h1v15h-1zM1846 1320h1v9h-1zM1845 1323h1v6h-1zM1849 1320h1v9h-1zM1858 1316h1v13h-1zM1859 1324h1v5h-1zM1863 1316h1v6h-1zM1864 1321h1v6h-1zM1865 1323h1v6h-1zM1865 1322h1v7h-1zM1864 1326h1v3h-1zM1867 1324h1v5h-1zM1867 1348h1v9h-1zM1868 1348h1v6h-1zM1869 1348h1v3h-1zM1869 1317h1v6h-1zM1868 1320h1v6h-1zM1867 1326h1v3h-1zM1869 1348h1v11h-1zM1868 1348h1v4h-1zM1872 1348h1v7h-1zM1873 1348h1v6h-1zM1874 1348h1v1h-1zM1874 1321h1v10h-1zM1876 1323h1v9h-1zM1876 1352h1v6h-1zM1877 1348h1v4h-1zM1890 1319h1v10h-1zM1891 1324h1v5h-1zM1901 1320h1v9h-1zM1900 1323h1v6h-1zM1899 1327h1v2h-1zM1905 1319h1v12h-1zM1905 1348h1v15h-1zM1904 1348h1v11h-1zM1903 1348h1v6h-1zM1914 1354h1v7h-1zM1913 1348h1v5h-1zM1917 1350h1v5h-1zM1918 1348h1v3h-1zM1919 1355h1v6h-1zM1918 1351h1v6h-1zM1917 1348h1v3h-1zM1923 1322h1v7h-1zM1926 1325h1v4h-1zM1927 1327h1v2h-1zM1928 1328h1v1h-1zM1926 1348h1v13h-1zM1927 1348h1v5h-1zM1928 1356h1v7h-1zM1927 1353h1v7h-1zM1926 1347h1v7h-1zM1932 1325h1v4h-1z"/>
<path d="M1935 1324h1v5h-1zM1936 1324h1v5h-1zM1932 1348h1v10h-1zM1931 1348h1v6h-1zM1930 1348h1v5h-1zM1939 1317h1v12h-1zM1937 1348h1v13h-1zM1936 1348h1v10h-1zM1935 1348h1v5h-1zM1939 1348h1v9h-1zM1940 1348h1v6h-1zM1941 1348h1v5h-1zM1950 1323h1v6h-1zM1949 1325h1v4h-1zM1950 1348h1v9h-1zM1949 1348h1v5h-1zM1953 1348h1v5h-1zM1957 1321h1v9h-1zM1957 1348h1v8h-1zM1958 1348h1v6h-1zM1959 1320h1v5h-1zM1958 1323h1v5h-1zM1957 1325h1v4h-1zM1968 1348h1v14h-1zM1967 1348h1v6h-1zM1973 1314h1v15h-1zM1972 1319h1v10h-1zM1971 1325h1v4h-1zM1980 1322h1v7h-1zM1981 1326h1v3h-1zM1977 1348h1v13h-1zM1976 1348h1v7h-1zM1982 1316h1v8h-1zM1981 1322h1v8h-1zM1982 1345h1v13h-1zM1986 1348h1v12h-1zM1985 1348h1v6h-1zM1989 1348h1v11h-1zM1990 1348h1v5h-1zM1991 1314h1v7h-1zM1990 1320h1v7h-1zM1989 1325h1v4h-1zM1991 1348h1v11h-1zM1990 1348h1v8h-1zM1989 1348h1v3h-1zM1998 1316h1v13h-1zM1999 1323h1v6h-1zM1995 1348h1v13h-1zM1994 1348h1v9h-1zM1993 1348h1v4h-1zM1998 1348h1v10h-1zM2000 1319h1v10h-1zM1999 1322h1v7h-1zM1998 1325h1v4h-1zM2002 1319h1v10h-1zM2003 1325h1v4h-1zM2000 1348h1v10h-1zM2004 1322h1v7h-1zM2003 1323h1v6h-1zM2002 1325h1v4h-1zM2007 1325h1v4h-1zM2008 1327h1v2h-1zM2009 1353h1v8h-1zM2008 1347h1v8h-1zM2011 1345h1v10h-1zM2013 1320h1v9h-1zM2012 1325h1v4h-1zM2043 1348h1v5h-1zM2044 1348h1v3h-1zM2045 1346h1v12h-1zM2052 1319h1v10h-1zM2054 1315h1v14h-1zM2053 1320h1v9h-1zM2052 1325h1v4h-1zM2058 1316h1v6h-1zM2057 1320h1v6h-1zM2056 1325h1v4h-1zM2061 1321h1v9h-1zM2061 1353h1v5h-1zM2062 1349h1v5h-1zM2063 1348h1v5h-1zM2063 1316h1v13h-1zM2062 1319h1v10h-1zM2061 1325h1v4h-1zM2063 1348h1v8h-1zM2062 1348h1v5h-1zM2061 1348h1v1h-1zM2065 1348h1v3h-1zM2067 1318h1v11h-1zM2066 1323h1v6h-1zM2070 1316h1v13h-1zM2071 1320h1v9h-1zM2072 1324h1v5h-1zM2070 1348h1v7h-1zM2071 1348h1v5h-1zM2081 1318h1v11h-1zM2080 1323h1v6h-1zM2079 1326h1v3h-1zM2083 1319h1v10h-1zM2084 1324h1v5h-1zM2085 1325h1v4h-1zM2081 1348h1v8h-1zM2080 1348h1v5h-1zM2085 1356h1v6h-1zM2084 1352h1v6h-1zM2083 1348h1v6h-1zM2094 1318h1v11h-1zM2093 1324h1v5h-1zM2097 1321h1v8h-1zM2098 1327h1v2h-1zM2103 1348h1v12h-1zM2102 1348h1v8h-1zM2101 1348h1v4h-1zM2106 1348h1v9h-1zM2107 1348h1v6h-1zM2110 1345h1v14h-1zM2119 1319h1v10h-1zM2120 1321h1v8h-1zM2121 1325h1v4h-1zM2124 1348h1v10h-1z"/>
<path d="M2125 1348h1v6h-1zM2126 1348h1v2h-1zM2126 1322h1v9h-1zM2128 1322h1v8h-1zM2126 1348h1v11h-1zM2125 1348h1v8h-1zM2130 1319h1v10h-1zM2129 1323h1v6h-1zM2133 1324h1v5h-1zM2134 1326h1v3h-1zM2135 1321h1v9h-1zM2137 1325h1v4h-1zM2138 1327h1v2h-1zM2139 1327h1v2h-1zM2139 1312h1v17h-1zM2138 1316h1v13h-1zM2137 1323h1v6h-1zM2144 1348h1v12h-1zM2146 1347h1v9h-1zM2148 1317h1v7h-1zM2147 1322h1v7h-1zM2148 1348h1v9h-1zM2151 1348h1v4h-1zM2153 1319h1v10h-1zM2157 1318h1v6h-1zM2156 1320h1v6h-1zM2155 1324h1v5h-1zM2160 1319h1v7h-1zM2161 1322h1v7h-1zM2160 1348h1v10h-1zM2161 1348h1v5h-1zM2162 1348h1v2h-1zM2164 1351h1v7h-1zM2165 1348h1v7h-1zM2173 1317h1v12h-1zM2174 1324h1v5h-1zM2171 1355h1v6h-1zM2170 1351h1v6h-1zM2169 1348h1v4h-1zM2182 1353h1v9h-1zM2183 1346h1v9h-1zM2187 1313h1v16h-1zM2188 1319h1v10h-1zM2189 1325h1v4h-1zM2189 1318h1v11h-1zM2191 1320h1v9h-1zM2192 1324h1v5h-1zM2193 1328h1v1h-1zM2193 1318h1v11h-1zM2192 1322h1v7h-1zM2191 1327h1v2h-1zM2193 1348h1v10h-1zM2205 1322h1v7h-1zM2206 1324h1v5h-1zM2207 1318h1v11h-1zM2206 1320h1v9h-1zM2205 1326h1v3h-1zM2209 1319h1v10h-1zM2210 1326h1v3h-1zM2214 1348h1v11h-1zM2215 1348h1v6h-1zM2216 1320h1v9h-1zM2215 1324h1v5h-1zM2218 1325h1v4h-1zM2219 1328h1v1h-1zM2218 1353h1v9h-1zM2219 1347h1v9h-1zM2220 1317h1v12h-1zM2219 1320h1v9h-1zM2218 1324h1v5h-1zM2223 1322h1v7h-1zM2224 1326h1v3h-1zM2232 1312h1v7h-1zM2233 1317h1v7h-1zM2234 1324h1v5h-1zM2236 1315h1v6h-1zM2237 1320h1v6h-1zM2238 1326h1v3h-1zM2238 1348h1v13h-1zM2237 1348h1v6h-1zM2241 1348h1v13h-1zM2242 1348h1v8h-1zM2243 1348h1v3h-1zM2243 1316h1v8h-1zM2242 1324h1v5h-1zM2247 1320h1v9h-1zM2246 1325h1v4h-1zM2245 1326h1v3h-1zM2254 1348h1v10h-1zM2255 1348h1v8h-1zM2256 1348h1v4h-1z"/>
</g>
<text transform="translate(970,82) scale(0.957,1)" font-size="60.6" text-anchor="start" font-weight="normal">(a)Thunderstorm stroke</text>
<text transform="translate(920,978) scale(0.953,1)" font-size="60.6" text-anchor="start" font-weight="normal">(b)Ionospheric dTEC series</text>
<text transform="translate(1182,898) scale(0.97,1)" font-size="60.6" text-anchor="start" font-weight="bold">Month</text>
<text transform="translate(1182,1793) scale(0.97,1)" font-size="60.6" text-anchor="start" font-weight="bold">Month</text>
<text transform="translate(74,447.3) rotate(-90) scale(0.91,1)" font-size="63" text-anchor="middle" font-weight="bold">Counts</text>
<text transform="translate(182,1339.5) rotate(-90) scale(0.93,1)" font-size="63" text-anchor="middle" font-weight="bold">TECU</text>
<text transform="translate(281,150) scale(0.944,1)" font-size="59.6" text-anchor="end" font-weight="normal">10000</text>
<text transform="translate(281,460) scale(0.944,1)" font-size="59.6" text-anchor="end" font-weight="normal">5000</text>
<text transform="translate(281,770) scale(0.944,1)" font-size="59.6" text-anchor="end" font-weight="normal">0</text>
<text transform="translate(281,1045) scale(0.944,1)" font-size="59.6" text-anchor="end" font-weight="normal">6</text>
<text transform="translate(281,1198) scale(0.944,1)" font-size="59.6" text-anchor="end" font-weight="normal">3</text>
<text transform="translate(281,1356) scale(0.944,1)" font-size="59.6" text-anchor="end" font-weight="normal">0</text>
<text transform="translate(281,1508) scale(0.944,1)" font-size="59.6" text-anchor="end" font-weight="normal">-3</text>
<text transform="translate(281,1666) scale(0.944,1)" font-size="59.6" text-anchor="end" font-weight="normal">-6</text>
<text transform="translate(301.3,820) scale(0.944,1)" font-size="59.6" text-anchor="middle" font-weight="normal">0</text>
<text transform="translate(625.6,820) scale(0.944,1)" font-size="59.6" text-anchor="middle" font-weight="normal">2</text>
<text transform="translate(949.0,820) scale(0.944,1)" font-size="59.6" text-anchor="middle" font-weight="normal">4</text>
<text transform="translate(1279.2,820) scale(0.944,1)" font-size="59.6" text-anchor="middle" font-weight="normal">6</text>
<text transform="translate(1603.0,820) scale(0.944,1)" font-size="59.6" text-anchor="middle" font-weight="normal">8</text>
<text transform="translate(1927.2,820) scale(0.944,1)" font-size="59.6" text-anchor="middle" font-weight="normal">10</text>
<text transform="translate(2255.9,820) scale(0.944,1)" font-size="59.6" text-anchor="middle" font-weight="normal">12</text>
<text transform="translate(301.3,1715) scale(0.944,1)" font-size="59.6" text-anchor="middle" font-weight="normal">0</text>
<text transform="translate(625.6,1715) scale(0.944,1)" font-size="59.6" text-anchor="middle" font-weight="normal">2</text>
<text transform="translate(949.0,1715) scale(0.944,1)" font-size="59.6" text-anchor="middle" font-weight="normal">4</text>
<text transform="translate(1279.2,1715) scale(0.944,1)" font-size="59.6" text-anchor="middle" font-weight="normal">6</text>
<text transform="translate(1603.0,1715) scale(0.944,1)" font-size="59.6" text-anchor="middle" font-weight="normal">8</text>
<text transform="translate(1927.2,1715) scale(0.944,1)" font-size="59.6" text-anchor="middle" font-weight="normal">10</text>
<text transform="translate(2255.9,1715) scale(0.944,1)" font-size="59.6" text-anchor="middle" font-weight="normal">12</text>
</svg>
</body></html>
